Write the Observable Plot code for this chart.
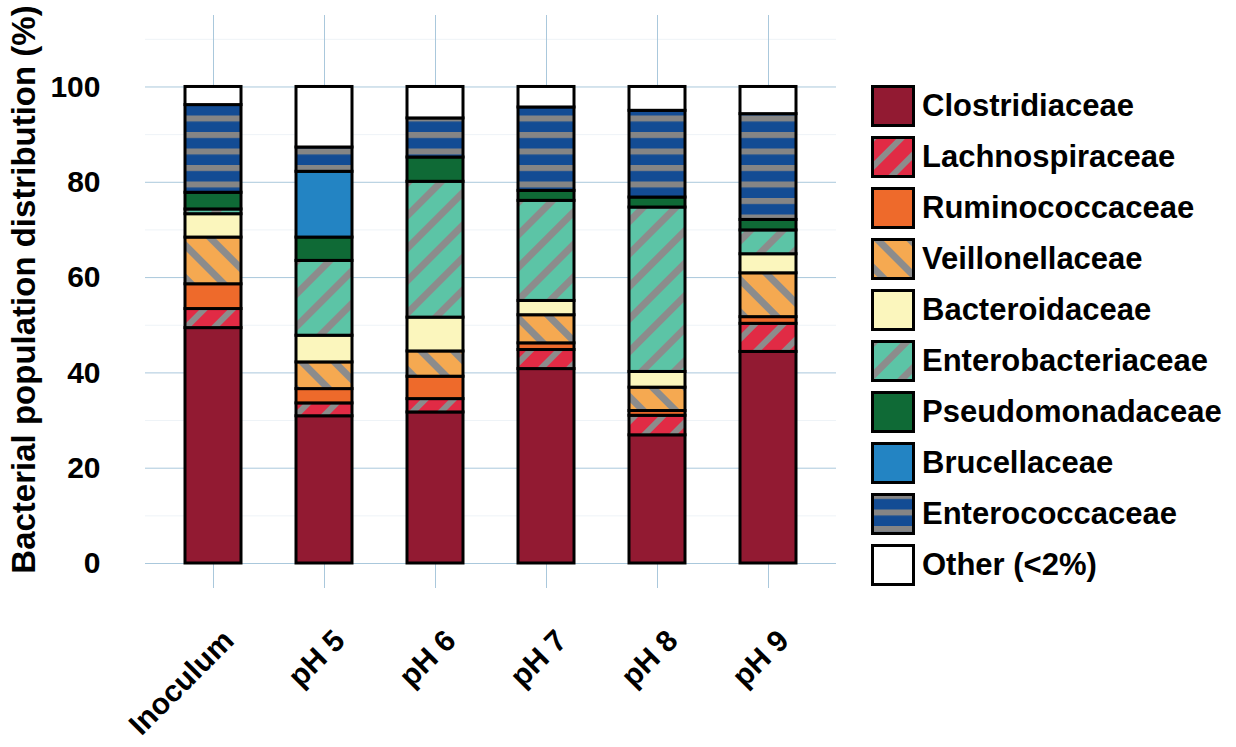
<!DOCTYPE html>
<html>
<head>
<meta charset="utf-8">
<script src="https://cdn.jsdelivr.net/npm/d3@7"></script>
<script src="https://cdn.jsdelivr.net/npm/@observablehq/plot@0.6"></script>
<style>
  html, body { margin: 0; padding: 0; background: #fff; }
  #wrap { position: relative; width: 1236px; height: 747px; overflow: hidden; font-family: "Liberation Sans", Arial, sans-serif; }
  #chart { position: absolute; left: 0; top: 0; }
  #legend { position: absolute; left: 871px; top: 80px; }
  .row { display: flex; align-items: center; height: 51px; }
  .row svg { display: block; flex: none; }
  .row span { margin-left: 7px; font-weight: bold; font-size: 31px; color: #000; white-space: nowrap; }
</style>
</head>
<body>
<svg width="0" height="0" style="position:absolute">
  <defs>
    <pattern id="pLachno" patternUnits="userSpaceOnUse" width="20" height="20" patternTransform="rotate(45)">
      <rect width="20" height="20" fill="#e12b45"/>
      <rect width="6" height="20" fill="#8c8c8c"/>
    </pattern>
    <pattern id="pVeillon" patternUnits="userSpaceOnUse" width="23" height="23" patternTransform="rotate(-45)">
      <rect width="23" height="23" fill="#f5a951"/>
      <rect width="7" height="23" fill="#8c8c8c"/>
    </pattern>
    <pattern id="pEntero" patternUnits="userSpaceOnUse" width="23" height="23" patternTransform="rotate(45)">
      <rect width="23" height="23" fill="#5cc4a6"/>
      <rect width="7" height="23" fill="#8c8c8c"/>
    </pattern>
    <pattern id="pEnteroc" patternUnits="userSpaceOnUse" width="16.5" height="16.5">
      <rect width="16.5" height="16.5" fill="#134c94"/>
      <rect y="0" width="16.5" height="6" fill="#858585"/>
    </pattern>
  </defs>
</svg>
<div id="wrap">
  <div id="chart"></div>
  <div id="legend"></div>
</div>
<script>
const categories = ["Inoculum", "pH 5", "pH 6", "pH 7", "pH 8", "pH 9"];
const families = ["Clostridiaceae", "Lachnospiraceae", "Ruminococcaceae", "Veillonellaceae", "Bacteroidaceae",
  "Enterobacteriaceae", "Pseudomonadaceae", "Brucellaceae", "Enterococcaceae", "Other (<2%)"];
const fills = ["#921a32", "url(#pLachno)", "#ee6a2b", "url(#pVeillon)", "#fbf6bd",
  "url(#pEntero)", "#0f6a36", "#2384c3", "url(#pEnteroc)", "#ffffff"];

const clostridiaceae     = [49.4, 30.9, 31.7, 40.8, 26.9, 44.4];
const lachnospiraceae    = [4.0, 2.7, 2.8, 4.0, 4.1, 5.9];
const ruminococcaceae    = [5.2, 3.0, 4.7, 1.4, 1.0, 1.4];
const veillonellaceae    = [9.8, 5.6, 5.3, 5.9, 4.9, 9.2];
const bacteroidaceae     = [4.9, 5.6, 7.1, 3.0, 3.3, 4.0];
const enterobacteriaceae = [1.0, 15.7, 28.5, 21.0, 34.5, 5.0];
const pseudomonadaceae   = [3.5, 4.9, 5.1, 2.1, 2.1, 2.2];
const brucellaceae       = [0, 13.8, 0, 0, 0, 0];
const enterococcaceae    = [18.4, 5.1, 8.2, 17.5, 18.2, 22.2];
const other              = [3.8, 12.7, 6.6, 4.3, 5.0, 5.7];

const yTicks = [0, 20, 40, 60, 80, 100];
const yMinorTicks = [10, 30, 50, 70, 90, 110];

const series = [clostridiaceae, lachnospiraceae, ruminococcaceae, veillonellaceae, bacteroidaceae,
  enterobacteriaceae, pseudomonadaceae, brucellaceae, enterococcaceae, other];

const rows = [];
categories.forEach((c, i) => {
  families.forEach((f, j) => {
    if (series[j][i] > 0) rows.push({sample: c, family: f, value: series[j][i]});
  });
});

const gridColor = "#aac8dc";
const font = "'Liberation Sans', Arial, sans-serif";

const chart = Plot.plot({
  width: 845,
  height: 747,
  marginLeft: 145,
  marginRight: 9,
  marginTop: 15,
  marginBottom: 184,
  style: {fontFamily: font, fontWeight: "bold", fontSize: "30px", background: "#fff", overflow: "visible", color: "#000"},
  x: {domain: categories, paddingInner: 0.5, paddingOuter: 0.36, align: 0.5},
  y: {domain: [0, 115]},
  color: {domain: families, range: fills},
  marks: [
    Plot.gridY(yMinorTicks, {stroke: "#eef3f7", strokeOpacity: 1}),
    Plot.gridY(yTicks, {stroke: gridColor, strokeOpacity: 1}),
    Plot.gridX({stroke: gridColor, strokeOpacity: 1}),
    Plot.axisX({tickSize: 25, stroke: gridColor, strokeOpacity: 1, tickFormat: () => "", label: null}),
    Plot.axisY(yTicks, {tickSize: 0, tickPadding: 45, fontSize: 30, fontWeight: "bold", label: null}),
    Plot.axisY({ticks: [], tickSize: 0, fontSize: 33, fontWeight: "bold",
      label: "Bacterial population distribution (%)", labelAnchor: "center", labelArrow: "none", labelOffset: 134}),
    Plot.barY(rows, {x: "sample", y: "value", fill: "family", stroke: "#000", strokeWidth: 3, order: families}),
    Plot.text(categories, {x: d => d, frameAnchor: "bottom", rotate: -45, textAnchor: "end",
      dx: 22, dy: 79, fontSize: 30, fontWeight: "bold", fill: "#000"})
  ]
});
document.getElementById("chart").appendChild(chart);

// Legend
const legend = document.getElementById("legend");
families.forEach((f, j) => {
  const row = document.createElement("div");
  row.className = "row";
  const ns = "http://www.w3.org/2000/svg";
  const s = document.createElementNS(ns, "svg");
  s.setAttribute("width", "44");
  s.setAttribute("height", "42");
  const r = document.createElementNS(ns, "rect");
  r.setAttribute("x", "1.5"); r.setAttribute("y", "1.5");
  r.setAttribute("width", "41"); r.setAttribute("height", "39");
  r.setAttribute("fill", fills[j]);
  r.setAttribute("stroke", "#000"); r.setAttribute("stroke-width", "3");
  s.appendChild(r);
  const t = document.createElement("span");
  t.textContent = f;
  row.appendChild(s);
  row.appendChild(t);
  legend.appendChild(row);
});
</script>
</body>
</html>
